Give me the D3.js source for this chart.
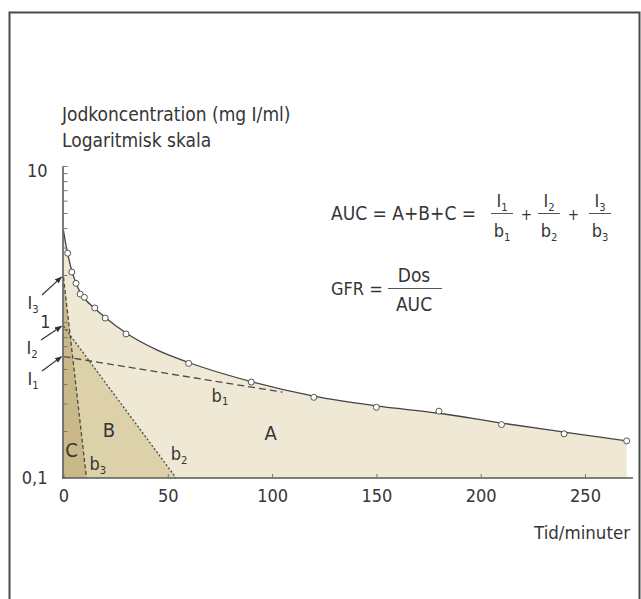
<!DOCTYPE html>
<html>
<head>
<meta charset="utf-8">
<script src="https://cdn.jsdelivr.net/npm/d3@7"></script>
<style>
  body { margin: 0; background: #fff; }
  svg { display: block; }
  text { font-family: "DejaVu Sans Condensed", "Liberation Sans Narrow", sans-serif; fill: #363636; }
</style>
</head>
<body>
<svg width="641" height="599"></svg>
<script>
// measured samples (time in minutes, iodine conc. mg I/ml)
const sampleT = [2, 4, 6, 8, 10, 15, 20, 30, 60, 90, 120, 150, 180, 210, 240, 270];
const sampleC = [2.76, 2.09, 1.77, 1.51, 1.44, 1.23, 1.06, 0.838, 0.543, 0.412, 0.329, 0.284, 0.268, 0.22, 0.192, 0.173];

// fitted curve
const fitT = [0, 1, 2, 4, 6, 8, 10, 15, 20, 30, 45, 60, 90, 120, 150, 180, 210, 240, 270];
const fitC = [3.85, 3.2, 2.75, 2.12, 1.78, 1.55, 1.42, 1.22, 1.07, 0.85, 0.66, 0.55, 0.415, 0.335, 0.29, 0.26, 0.225, 0.197, 0.173];

// the three exponential components (start, end)
const b1T = [0, 105], b1C = [0.6, 0.355];
const b2T = [0, 54], b2C = [0.94, 0.1];
const b3T = [0, 11], b3C = [1.94, 0.1];

const xTicks = [0, 50, 100, 150, 200, 250];
const yLabels = { 0.1: "0,1", 1: "1", 10: "10" };

const svg = d3.select("svg");

// frame
svg.append("path")
  .attr("d", "M9.5,599 V12.5 H639.5 V599")
  .attr("fill", "none").attr("stroke", "#4a4a4a").attr("stroke-width", 2);

const x = d3.scaleLinear().domain([0, 270]).range([63.5, 626.7]);
const y = d3.scaleLog().domain([0.1, 10]).range([478, 166]);

const zip = (ts, cs) => ts.map((t, i) => ({ t, c: cs[i] }));
const fit = zip(fitT, fitC);

// area A (under whole curve)
svg.append("path")
  .datum(fit)
  .attr("fill", "#eee8d4")
  .attr("d", d3.area().x(d => x(d.t)).y0(y(0.1)).y1(d => y(d.c)).curve(d3.curveMonotoneX));

// area B and C (under components 2 and 3)
const tri = (ts, cs) => d3.area().x(d => x(d.t)).y0(y(0.1)).y1(d => y(d.c))(zip(ts, cs));
svg.append("path").attr("fill", "#ddd1a9").attr("d", tri(b2T, b2C));
svg.append("path").attr("fill", "#c8b88a").attr("d", tri(b3T, b3C));

// component lines
const line = d3.line().x(d => x(d.t)).y(d => y(d.c));
svg.append("path").attr("d", line(zip(b1T, b1C)))
  .attr("fill", "none").attr("stroke", "#4a4a4a").attr("stroke-width", 1.3).attr("stroke-dasharray", "7,4");
svg.append("path").attr("d", line(zip(b2T, b2C)))
  .attr("fill", "none").attr("stroke", "#4a4a4a").attr("stroke-width", 1.3).attr("stroke-dasharray", "2,2");
svg.append("path").attr("d", line(zip(b3T, b3C)))
  .attr("fill", "none").attr("stroke", "#4a4a4a").attr("stroke-width", 1.3).attr("stroke-dasharray", "4,2.5");

// fitted curve
svg.append("path")
  .datum(fit)
  .attr("fill", "none").attr("stroke", "#444").attr("stroke-width", 1.3)
  .attr("d", d3.line().x(d => x(d.t)).y(d => y(d.c)).curve(d3.curveMonotoneX));

// samples
svg.append("g").selectAll("circle")
  .data(zip(sampleT, sampleC))
  .join("circle")
  .attr("cx", d => x(d.t)).attr("cy", d => y(d.c)).attr("r", 3)
  .attr("fill", "#fff").attr("stroke", "#555").attr("stroke-width", 1);

// axes
const xAxis = svg.append("g")
  .attr("transform", `translate(0,${y(0.1)})`)
  .call(d3.axisBottom(x).tickValues(xTicks).tickSize(-4).tickPadding(11).tickSizeOuter(0));
xAxis.select(".domain").attr("d", `M${x(0) - 1.5},0H633`);

const yTickVals = [];
[0.1, 1].forEach(d => { for (let k = 1; k < 10; k++) yTickVals.push(d * k); });
yTickVals.push(10);
const yAxis = svg.append("g")
  .attr("transform", `translate(${x(0) - 1},0)`)
  .call(d3.axisLeft(y).tickValues(yTickVals).tickSize(-5).tickPadding(15).tickSizeOuter(0)
    .tickFormat(d => yLabels[+d.toPrecision(3)] || ""));

[xAxis, yAxis].forEach(g => {
  g.select(".domain").attr("stroke", "#5a5a5a").attr("stroke-width", 1.6);
  g.selectAll(".tick line").attr("stroke", "#777").attr("stroke-width", 1);
  g.selectAll("text").attr("font-size", 18).attr("fill", "#363636")
    .attr("font-family", "DejaVu Sans Condensed, sans-serif");
});
yAxis.selectAll(".tick").filter(d => d === 10).select("text").attr("dy", "0.6em");
yAxis.selectAll(".tick").filter(d => d === 1).select("text").attr("x", -12);

// titles
svg.append("text").attr("x", 62).attr("y", 121).attr("font-size", 19).text("Jodkoncentration (mg I/ml)");
svg.append("text").attr("x", 62).attr("y", 147).attr("font-size", 19).text("Logaritmisk skala");
svg.append("text").attr("x", 630).attr("y", 539).attr("font-size", 18.5).attr("text-anchor", "end").text("Tid/minuter");

// text with subscript helper
function sub(g, px, py, base, s, size, anchor) {
  const t = g.append("text").attr("x", px).attr("y", py).attr("font-size", size)
    .attr("text-anchor", anchor || "middle");
  t.append("tspan").text(base);
  t.append("tspan").attr("font-size", size * 0.62).attr("dy", size * 0.2).text(s);
  return t;
}

// region labels, placed in data coordinates
const regionLabels = [
  { t: 3.9, c: 0.151, txt: "C", fill: "#3f3a26" },
  { t: 21.8, c: 0.203, txt: "B", fill: "#363636" },
  { t: 99.3, c: 0.194, txt: "A", fill: "#363636" }
];
svg.append("g").selectAll("text").data(regionLabels).join("text")
  .attr("x", d => x(d.t)).attr("y", d => y(d.c) + 7)
  .attr("text-anchor", "middle").attr("font-size", 20).attr("fill", d => d.fill)
  .text(d => d.txt);

const rateLabels = [
  { t: 16.5, c: 0.121, s: "3" },
  { t: 55.4, c: 0.140, s: "2" },
  { t: 75, c: 0.332, s: "1" }
];
rateLabels.forEach(d => sub(svg, x(d.t), y(d.c) + 5, "b", d.s, 18));

// intercept labels with arrows
const intercepts = [
  { c: b3C[0], s: "3", lx: 33, ly: 309 },
  { c: b2C[0], s: "2", lx: 32, ly: 354 },
  { c: b1C[0], s: "1", lx: 33, ly: 385 }
];
svg.append("defs").append("marker")
  .attr("id", "arr").attr("viewBox", "0 0 10 10").attr("refX", 9).attr("refY", 5)
  .attr("markerWidth", 6).attr("markerHeight", 6).attr("orient", "auto")
  .append("path").attr("d", "M0,1L10,5L0,9z").attr("fill", "#333");
intercepts.forEach(d => {
  sub(svg, d.lx, d.ly, "I", d.s, 18);
  svg.append("line")
    .attr("x1", d.lx + 9).attr("y1", d.ly - 14)
    .attr("x2", x(0) - 2).attr("y2", y(d.c))
    .attr("stroke", "#333").attr("stroke-width", 1.2).attr("marker-end", "url(#arr)");
});

// formulas
const f = svg.append("g");
f.append("text").attr("x", 331).attr("y", 220).attr("font-size", 19).text("AUC = A+B+C =");
const fracs = [{ n: "1", cx: 502 }, { n: "2", cx: 549 }, { n: "3", cx: 600 }];
fracs.forEach((d, i) => {
  sub(f, d.cx, 207, "I", d.n, 18);
  sub(f, d.cx, 237, "b", d.n, 18);
  f.append("line").attr("x1", d.cx - 11).attr("x2", d.cx + 11).attr("y1", 213.5).attr("y2", 213.5)
    .attr("stroke", "#555").attr("stroke-width", 1);
  if (i < 2) f.append("text").attr("x", d.cx + 24.5).attr("y", 220).attr("font-size", 15)
    .attr("text-anchor", "middle").text("+");
});
f.append("text").attr("x", 331).attr("y", 295).attr("font-size", 18).text("GFR =");
f.append("text").attr("x", 414).attr("y", 282).attr("font-size", 19).attr("text-anchor", "middle").text("Dos");
f.append("text").attr("x", 414).attr("y", 311).attr("font-size", 19).attr("text-anchor", "middle").text("AUC");
f.append("line").attr("x1", 388).attr("x2", 442).attr("y1", 288.5).attr("y2", 288.5)
  .attr("stroke", "#555").attr("stroke-width", 1);
</script>
</body>
</html>
